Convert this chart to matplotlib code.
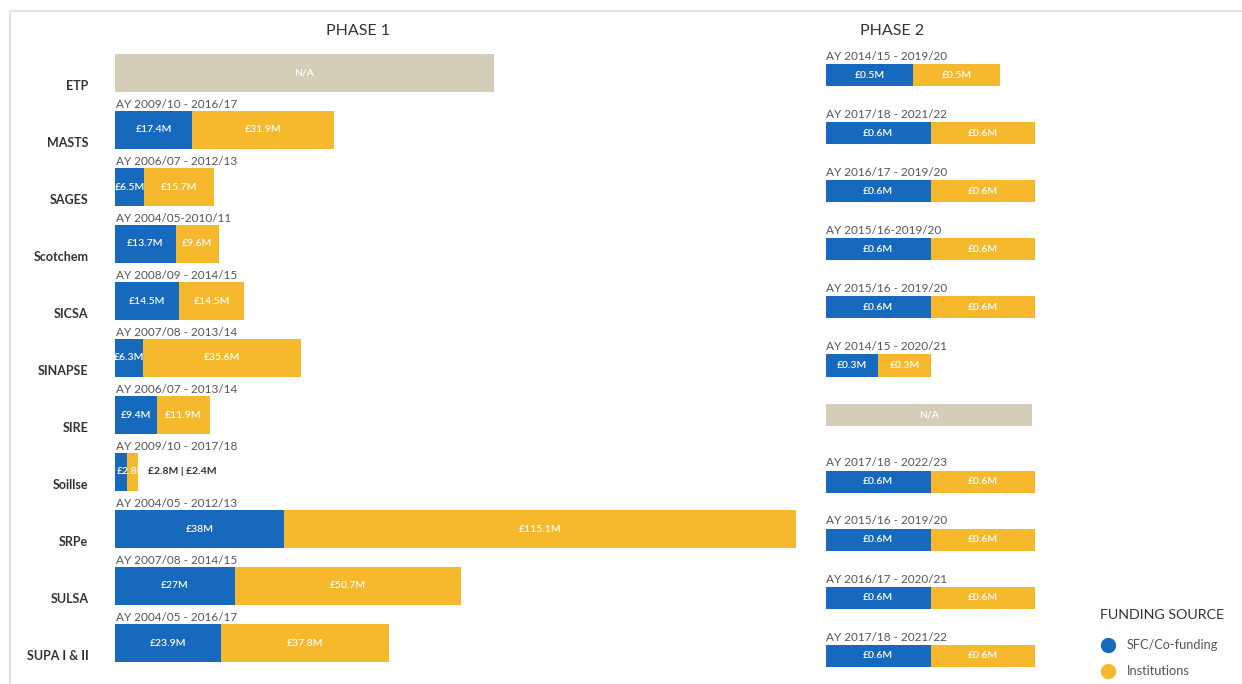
"""Phase 1 / Phase 2 funding by centre, stacked bars."""

import matplotlib

matplotlib.use("Agg")
import matplotlib.pyplot as plt
import numpy as np
from matplotlib.lines import Line2D
from matplotlib.patches import Rectangle

plt.rcParams["font.family"] = ["Lato", "DejaVu Sans"]

centres = ["ETP", "MASTS", "SAGES", "Scotchem", "SICSA", "SINAPSE", "SIRE",
           "Soillse", "SRPe", "SULSA", "SUPA I & II"]

p1_sfc = [np.nan, 17.4, 6.5, 13.7, 14.5, 6.3, 9.4, 2.8, 38, 27, 23.9]
p1_inst = [np.nan, 31.9, 15.7, 9.6, 14.5, 35.6, 11.9, 2.4, 115.1, 50.7, 37.8]
p1_sfc_lbl = ["", "£17.4M", "£6.5M", "£13.7M", "£14.5M", "£6.3M", "£9.4M", "£2.8M", "£38M", "£27M", "£23.9M"]
p1_inst_lbl = ["", "£31.9M", "£15.7M", "£9.6M", "£14.5M", "£35.6M", "£11.9M", "", "£115.1M", "£50.7M", "£37.8M"]
p1_period = [None, "AY 2009/10 - 2016/17", "AY 2006/07 - 2012/13", "AY 2004/05-2010/11",
             "AY 2008/09 - 2014/15", "AY 2007/08 - 2013/14", "AY 2006/07 - 2013/14",
             "AY 2009/10 - 2017/18", "AY 2004/05 - 2012/13", "AY 2007/08 - 2014/15",
             "AY 2004/05 - 2016/17"]

p2_sfc = [0.5, 0.6, 0.6, 0.6, 0.6, 0.3, np.nan, 0.6, 0.6, 0.6, 0.6]
p2_inst = [0.5, 0.6, 0.6, 0.6, 0.6, 0.3, np.nan, 0.6, 0.6, 0.6, 0.6]
p2_period = ["AY 2014/15 - 2019/20", "AY 2017/18 - 2021/22", "AY 2016/17 - 2019/20",
             "AY 2015/16-2019/20", "AY 2015/16 - 2019/20", "AY 2014/15 - 2020/21", None,
             "AY 2017/18 - 2022/23", "AY 2015/16 - 2019/20", "AY 2016/17 - 2020/21",
             "AY 2017/18 - 2021/22"]

BLUE = "#1769BD"
YELLOW = "#F6B82C"
BEIGE = "#D4CEB8"
DARK = "#333333"
GREY = "#555555"

W, H = 1242, 684
fig = plt.figure(figsize=(W / 100, H / 100), dpi=100)


def px_axes(left, top, width, height):
    return fig.add_axes([left / W, 1 - (top + height) / H, width / W, height / H])


def fmt_m(v):
    return f"£{v:g}M"


# phase 1: 4.448 px per £M, rows 57 px apart starting at y=73
n = len(centres)
ax1 = px_axes(115, 73 - 0.6 * 57, 160 * 4.448, (n - 1 + 1.2) * 57)
ax1.set_xlim(0, 160)
ax1.set_ylim(n - 1 + 0.6, -0.6)
ax1.axis("off")
h1 = 0.65
y = np.arange(n)
ax1.barh(y, p1_sfc, height=h1, color=BLUE)
ax1.barh(y, p1_inst, left=p1_sfc, height=h1, color=YELLOW)
ax1.barh([0], [85.2], height=h1, color=BEIGE)
ax1.text(85.2 / 2, 0, "N/A", color="white", ha="center", va="center", fontsize=7.5,
         fontweight="semibold")

for i in range(n):
    ax1.text(-6, i + 0.22, centres[i], ha="right", va="center", fontsize=9,
             fontweight="bold", color=DARK, clip_on=False)
    if p1_period[i]:
        ax1.text(0.3, i - h1 / 2 - 0.03, p1_period[i], ha="left", va="bottom",
                 fontsize=8.5, color=GREY)
    if np.isnan(p1_sfc[i]):
        continue
    s, t = p1_sfc[i], p1_inst[i]
    if p1_inst_lbl[i]:
        ax1.text(s / 2, i, p1_sfc_lbl[i], ha="center", va="center", fontsize=7.5,
                 color="white", fontweight="semibold")
        ax1.text(s + t / 2, i, p1_inst_lbl[i], ha="center", va="center", fontsize=7.5,
                 color="white", fontweight="semibold")
    else:
        # bar too narrow: label clipped to the bar, values written beside it
        clip = Rectangle((0, i - h1 / 2), s + t, h1, transform=ax1.transData,
                         facecolor="none", edgecolor="none")
        ax1.add_patch(clip)
        txt = ax1.text(0.5, i, p1_sfc_lbl[i], ha="left", va="center", fontsize=7.5,
                       color="white", fontweight="semibold")
        txt.set_clip_path(clip)
        ax1.text(s + t + 2.3, i, f"{fmt_m(s)} | {fmt_m(t)}", ha="left", va="center",
                 fontsize=7.5, fontweight="bold", color=DARK)

# phase 2: 174.2 px per £M, rows 58.1 px apart starting at y=75
ax2 = px_axes(826, 75 - 0.6 * 58.1, 1.3 * 174.2, (n - 1 + 1.2) * 58.1)
ax2.set_xlim(0, 1.3)
ax2.set_ylim(n - 1 + 0.6, -0.6)
ax2.axis("off")
h2 = 0.38
ax2.barh(y, p2_sfc, height=h2, color=BLUE)
ax2.barh(y, p2_inst, left=p2_sfc, height=h2, color=YELLOW)
na_y = 6 - 0.15
ax2.barh([na_y], [1.183], height=h2, color=BEIGE)
ax2.text(1.183 / 2, na_y, "N/A", color="white", ha="center", va="center", fontsize=7.5,
         fontweight="semibold")
for i in range(n):
    if p2_period[i]:
        ax2.text(0.0, i - h2 / 2 - 0.04, p2_period[i], ha="left", va="bottom",
                 fontsize=8.5, color=GREY)
    if np.isnan(p2_sfc[i]):
        continue
    s, t = p2_sfc[i], p2_inst[i]
    ax2.text(s / 2, i, fmt_m(s), ha="center", va="center", fontsize=7.5, color="white",
             fontweight="semibold")
    ax2.text(s + t / 2, i, fmt_m(t), ha="center", va="center", fontsize=7.5, color="white",
             fontweight="semibold")

fig.text(358 / W, 1 - 31 / H, "PHASE 1", ha="center", va="center", fontsize=11.5, color=DARK)
fig.text(892 / W, 1 - 31 / H, "PHASE 2", ha="center", va="center", fontsize=11.5, color=DARK)

# legend
fig.text(1100 / W, 1 - 615 / H, "FUNDING SOURCE", ha="left", va="center", fontsize=10.3, color=DARK)
for yy, col, lab in [(645, BLUE, "SFC/Co-funding"), (671, YELLOW, "Institutions")]:
    fig.add_artist(Line2D([1108 / W], [1 - yy / H], marker="o", markersize=10,
                          color=col, linestyle="none"))
    fig.text(1127 / W, 1 - yy / H, lab, ha="left", va="center", fontsize=9.2, color=GREY)

# light frame on top and left
fig.add_artist(Line2D([10 / W, 1], [1 - 11 / H, 1 - 11 / H], color="#e3e3e3", linewidth=1.5))
fig.add_artist(Line2D([10 / W, 10 / W], [0, 1 - 11 / H], color="#e3e3e3", linewidth=1.5))

fig.savefig("out.png", dpi=100)
